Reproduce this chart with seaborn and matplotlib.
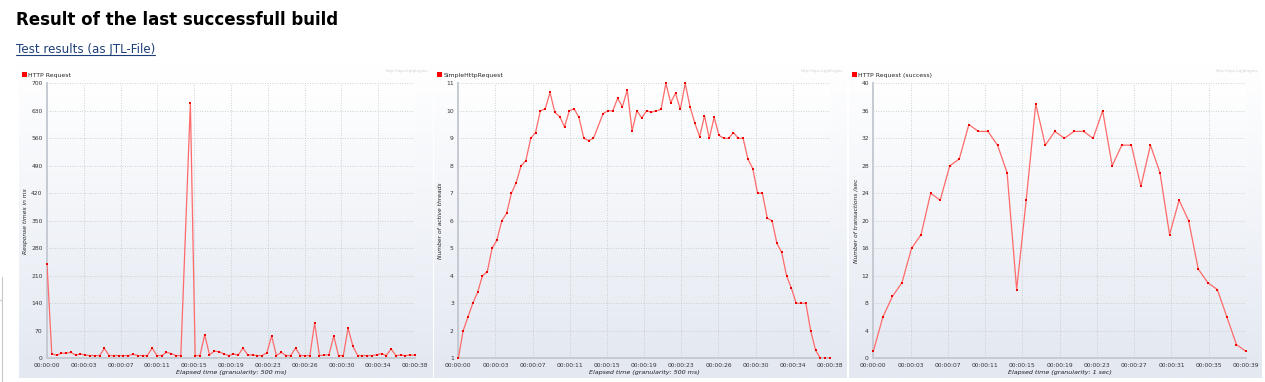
import numpy as np
import pandas as pd
import seaborn as sns
import matplotlib.pyplot as plt
from matplotlib.colors import LinearSegmentedColormap
from matplotlib.lines import Line2D
from matplotlib.patches import Rectangle

# response times in ms, one sample per 500 ms (index 29 has no sample)
resp_ms = [240, 11, 8, 13, 13, 15, 8, 11, 8, 7,
           7, 7, 25, 7, 7, 7, 7, 7, 10, 7,
           7, 7, 26, 7, 7, 15, 12, 7, 7, None,
           650, 7, 7, 60, 9, 18, 17, 11, 7, 11,
           8, 26, 9, 8, 7, 7, 14, 57, 7, 15,
           7, 7, 26, 7, 7, 7, 90, 7, 8, 9,
           57, 7, 7, 77, 31, 7, 7, 7, 7, 9,
           12, 7, 24, 7, 8, 7, 8, 8]

# active threads, one sample per 500 ms
threads = [1, 2, 2.5, 3, 3.4, 4, 4.15, 5, 5.3, 6,
           6.27, 7, 7.39, 8, 8.19, 9, 9.21, 10, 10.07, 10.67,
           9.94, 9.79, 9.42, 10, 10.07, 9.76, 9.0, 8.92, 9.0, None,
           9.9, 10, 10, 10.45, 10.15, 10.76, 9.27, 10, 9.74, 10,
           9.95, 10, 10.05, 11, 10.3, 10.64, 10.05, 11, 10.15, 9.55,
           9.06, 9.82, 9.0, 9.76, 9.11, 9.0, 9.0, 9.21, 9.0, 9.0,
           8.24, 7.9, 7, 7, 6.1, 6.0, 5.18, 4.85, 4.0, 3.55,
           3, 3, 3, 2, 1.3, 1, 1, 1]

# transactions per second, one sample per second
tps = [1, 6, 9, 11, 16, 18, 24, 23, 28, 29,
       34, 33, 33, 31, 27, 10, 23, 37, 31, 33,
       32, 33, 33, 32, 36, 28, 31, 31, 25, 31,
       27, 18, 23, 20, 13, 11, 10, 6, 2, 1]

W, H = 1265, 382
fig = plt.figure(figsize=(W / 100, H / 100), dpi=100)
sns.set_style("white")
plt.rcParams['font.family'] = ['DejaVu Sans']


def fx(px):
    return px / W


def fy(py):
    return 1 - py / H


grad = np.linspace(0, 1, 256).reshape(-1, 1)
frame_cmap = LinearSegmentedColormap.from_list('frame', ['#ffffff', '#e3e8f1'])
plot_cmap = LinearSegmentedColormap.from_list('plot', ['#ffffff', '#e4e9f2'])


def hms(t):
    s = int(t + 1e-9)
    return f"{s // 3600:02d}:{(s // 60) % 60:02d}:{s % 60:02d}"


panels = [
    dict(name='HTTP Request', values=resp_ms, step=0.5, ylim=(0, 700), yticks=np.arange(0, 701, 70),
         ylabel='Response times in ms', xlabel='Elapsed time (granularity: 500 ms)',
         frame=19, left=47, right=415),
    dict(name='SimpleHttpRequest', values=threads, step=0.5, ylim=(1, 11), yticks=np.arange(1, 12, 1),
         ylabel='Number of active threads', xlabel='Elapsed time (granularity: 500 ms)',
         frame=434, left=458.3, right=830),
    dict(name='HTTP Request (success)', values=tps, step=1.0, ylim=(0, 40), yticks=np.arange(0, 41, 4),
         ylabel='Number of transactions /sec', xlabel='Elapsed time (granularity: 1 sec)',
         frame=849, left=873.3, right=1246),
]

top, bottom = 83.3, 358.3

for p in panels:
    # panel frame with gradient
    bg = fig.add_axes([fx(p['frame']), fy(378), fx(413), (378 - 64) / H])
    bg.imshow(grad, cmap=frame_cmap, aspect='auto', extent=[0, 1, 0, 1], origin='upper')
    bg.axis('off')

    ax = fig.add_axes([fx(p['left']), fy(bottom), fx(p['right'] - p['left']), (bottom - top) / H])
    ax.imshow(grad, cmap=plot_cmap, aspect='auto', extent=[0, 1, 0, 1], origin='upper',
              transform=ax.transAxes, zorder=0)

    df = pd.DataFrame({'value': p['values']})
    df['t'] = np.arange(len(df)) * p['step']
    df = df.dropna()
    tmax = (len(p['values']) - 1) * p['step']

    sns.lineplot(data=df, x='t', y='value', ax=ax, color='#ff6a6a', linewidth=0.9, zorder=3)
    sns.scatterplot(data=df, x='t', y='value', ax=ax, color='#ee0000', marker='s', s=4,
                    linewidth=0, zorder=4, clip_on=False)

    ax.set_xlim(0, tmax)
    ax.set_ylim(*p['ylim'])
    xt = np.linspace(0, tmax, 11)
    ax.set_xticks(xt)
    ax.set_xticklabels([hms(t) for t in xt])
    ax.set_yticks(p['yticks'])
    ax.set_yticklabels([str(v) for v in p['yticks']])

    ax.grid(True, linestyle=(0, (1, 2)), color='#c2c2c2', linewidth=0.6)
    ax.set_axisbelow(True)
    for side in ['top', 'right']:
        ax.spines[side].set_visible(False)
    for side in ['left', 'bottom']:
        ax.spines[side].set_color('#c6cad3')
        ax.spines[side].set_linewidth(1.4)
    ax.tick_params(labelsize=4.3, colors='#333333', length=2, width=0.5, pad=1.2)
    ax.tick_params(axis='both', color='#9a9a9a')

    ax.set_xlabel(p['xlabel'], fontsize=4.6, style='italic', color='#222222', labelpad=1.5)
    ax.set_ylabel(p['ylabel'], fontsize=4.3, style='italic', color='#222222', labelpad=2)

    ax.legend(handles=[Rectangle((0, 0), 1, 1, fc='#ff0000', ec='none')], labels=[p['name']],
              loc='center left', bbox_to_anchor=(fx(p['frame'] + 2.5), fy(75)),
              bbox_transform=fig.transFigure, frameon=False, fontsize=4.4,
              handlelength=0.9, handleheight=0.9, handletextpad=0.2,
              borderpad=0, borderaxespad=0)

    fig.text(fx(p['frame'] + 409), fy(71), 'http://apc.kg/plugins', ha='right', va='center',
             fontsize=3, color='#d2d2d2')

fig.text(fx(16), fy(25), 'Result of the last successfull build', fontsize=12,
         weight='bold', color='#000000', va='baseline')
link = fig.text(fx(16), fy(53), 'Test results (as JTL-File)', fontsize=8.6,
                color='#1d3f7a', va='baseline')

renderer = fig.canvas.get_renderer()
bb = link.get_window_extent(renderer)
fig.add_artist(Line2D([bb.x0 / W, bb.x1 / W], [fy(55), fy(55)], color='#1d3f7a', linewidth=0.8))

# page table border at the far left
fig.add_artist(Line2D([fx(2), fx(2)], [fy(277), fy(382)], color='#c8c8c8', linewidth=0.8))
fig.add_artist(Line2D([fx(0), fx(2)], [fy(300), fy(300)], color='#c8c8c8', linewidth=0.8))

fig.savefig('out.png', dpi=100)
